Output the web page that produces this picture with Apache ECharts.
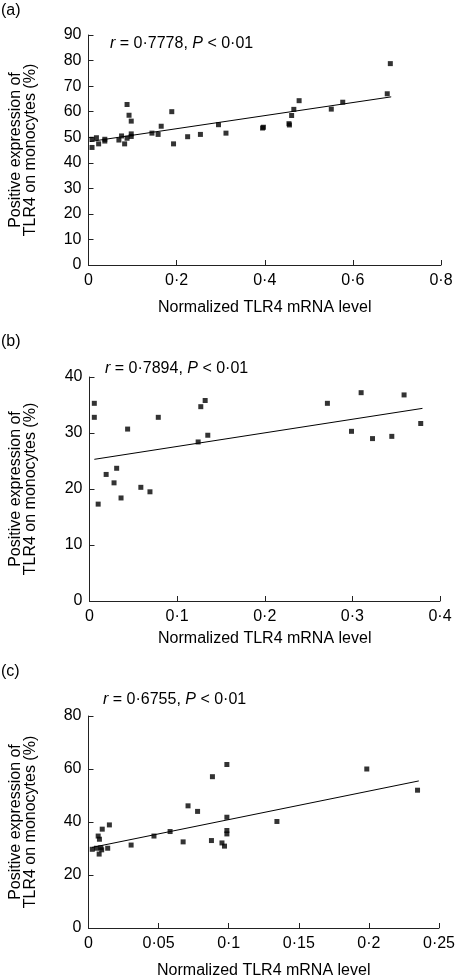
<!DOCTYPE html>
<html>
<head>
<meta charset="utf-8">
<script src="https://cdn.jsdelivr.net/npm/echarts@6/dist/echarts.min.js"></script>
<style>html,body{margin:0;padding:0;background:#fff;}#c{width:458px;height:980px;}</style>
</head>
<body>
<div id="c"></div>
<script>
// Panel (a)
const xA = [0.008,0.008,0.018,0.023,0.037,0.037,0.069,0.075,0.082,0.0875,0.0875,0.092,0.097,0.097,0.097,0.144,0.158,0.165,0.189,0.193,0.225,0.254,0.295,0.312,0.395,0.397,0.455,0.456,0.461,0.466,0.478,0.551,0.577,0.678,0.685];
const yA = [46.0,49.2,49.8,47.4,49.2,48.5,48.9,50.5,47.4,62.8,49.6,58.6,56.3,51.3,50.3,51.6,51.1,54.3,60.0,47.4,50.2,51.1,54.9,51.6,53.6,53.9,55.3,54.8,58.5,60.9,64.3,61.0,63.7,67.0,78.8];
const fitAx = [0.003,0.687];
const fitAy = [48.3,65.8];
// Panel (b)
const xB = [0.0055,0.0055,0.0099,0.019,0.028,0.031,0.036,0.0435,0.0586,0.069,0.0785,0.124,0.127,0.132,0.135,0.2715,0.299,0.310,0.323,0.345,0.359,0.378];
const yB = [35.3,32.8,17.3,22.6,21.1,23.7,18.4,30.7,20.3,19.5,32.8,28.4,34.7,35.8,29.6,35.3,30.3,37.2,29.0,29.4,36.8,31.7];
const fitBx = [0.0055,0.380];
const fitBy = [25.3,34.4];
// Panel (c)
const xC = [0.0027,0.0057,0.0069,0.0076,0.0078,0.0088,0.0094,0.0098,0.0137,0.0149,0.0304,0.0467,0.0582,0.0675,0.071,0.0778,0.0877,0.0884,0.0952,0.097,0.0987,0.0987,0.0987,0.0987,0.1344,0.1985,0.2347];
const yC = [29.7,30.1,34.7,27.9,33.5,30.3,29.5,37.3,30.1,38.9,31.3,34.7,36.4,32.5,46.1,44.0,33.0,57.1,32.1,30.9,41.8,36.8,35.5,61.7,40.2,60.0,52.0];
const fitCx = [0.0025,0.2356];
const fitCy = [30.4,55.5];

const panelLabels = ['(a)','(b)','(c)'];
const statTexts = [['0·7778','0·01'],['0·7894','0·01'],['0·6755','0·01']];
const xName = 'Normalized TLR4 mRNA level';
const yName = 'Positive expression of\nTLR4 on monocytes (%)';

const xMax = [0.8,0.4,0.25], xInt = [0.2,0.1,0.05];
const yMax = [90,40,80], yInt = [10,10,20];

const grids = [
  {left:75, top:35, width:366, height:230},
  {left:78, top:377, width:362, height:224},
  {left:77, top:716, width:364, height:220}
];
const FONT = '"Liberation Sans", Arial, sans-serif';
const fmt = v => (Math.round(v*1000)/1000).toString().replace('.', '·');

function pts(xs, ys){ return xs.map((x,i)=>[x, ys[i]]); }
const scatterData = [pts(xA,yA), pts(xB,yB), pts(xC,yC)];
const fitData = [pts(fitAx,fitAy), pts(fitBx,fitBy), pts(fitCx,fitCy)];

const xAxes = [], yAxes = [], series = [];
for (let i=0;i<3;i++){
  xAxes.push({
    gridIndex:i, type:'value', min:0, max:xMax[i], interval:xInt[i],
    name:xName, nameLocation:'middle', nameGap:i===1?30:35,
    nameTextStyle:{color:'#000', fontSize:16, fontFamily:FONT},
    axisLine:{lineStyle:{color:'#222', width:1}},
    axisTick:{inside:true, length:5, lineStyle:{color:'#222'}},
    axisLabel:{color:'#000', fontSize:16, fontFamily:FONT, margin:8, formatter:fmt},
    splitLine:{show:false}
  });
  yAxes.push({
    gridIndex:i, type:'value', min:0, max:yMax[i], interval:yInt[i],
    name:yName, nameLocation:'middle', nameGap:i===1?51:50, nameRotate:90,
    nameTextStyle:{color:'#000', fontSize:16, fontFamily:FONT, lineHeight:15},
    axisLine:{show:true, lineStyle:{color:'#222', width:1}},
    axisTick:{inside:true, length:5, lineStyle:{color:'#222'}},
    axisLabel:{color:'#000', fontSize:16, fontFamily:FONT, margin:7, formatter:fmt},
    splitLine:{show:false}
  });
  series.push({
    type:'scatter', xAxisIndex:i, yAxisIndex:i, data:scatterData[i],
    symbol:'rect', symbolSize:5, itemStyle:{color:'#000'}, silent:true
  });
  series.push({
    type:'line', xAxisIndex:i, yAxisIndex:i, data:fitData[i],
    symbol:'none', lineStyle:{color:'#000', width:1}, silent:true
  });
}

const labelPos = [[1,12],[1,343],[1,673]];
const statPos = [[110,45],[105,370],[103,701]];
const graphic = [];
for (let i=0;i<3;i++){
  graphic.push({type:'text', left:labelPos[i][0], top:labelPos[i][1]-9,
    style:{text:panelLabels[i], fill:'#000', font:'16px '+FONT}});
  graphic.push({type:'text', left:statPos[i][0], top:statPos[i][1]-9,
    style:{
      text:'{i|r} = '+statTexts[i][0]+', {i|P} < '+statTexts[i][1],
      fill:'#000', font:'16px '+FONT,
      rich:{i:{fontStyle:'italic', fontSize:16, fontFamily:FONT, fill:'#000'}}
    }});
}

const chart = echarts.init(document.getElementById('c'), null, {renderer:'canvas'});
chart.setOption({
  animation:false,
  backgroundColor:'#fff',
  grid:grids,
  xAxis:xAxes,
  yAxis:yAxes,
  series:series,
  graphic:graphic
});
</script>
</body>
</html>
